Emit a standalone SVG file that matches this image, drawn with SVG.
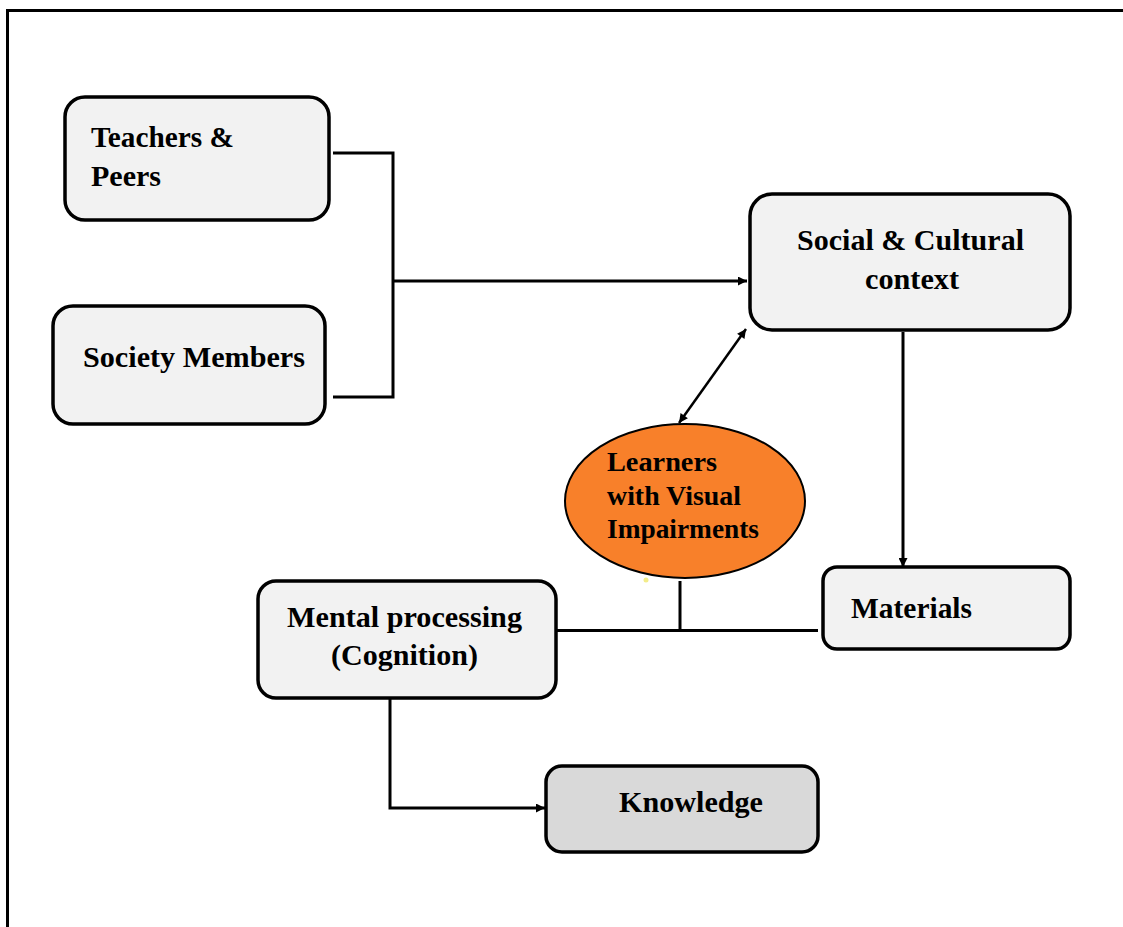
<svg xmlns="http://www.w3.org/2000/svg" width="1123" height="927" viewBox="0 0 1123 927">
  <style>
    .box { fill: #F2F2F2; stroke: #000; stroke-width: 3.5; }
    .dark { fill: #D9D9D9; }
    .lbl { font-family: "Liberation Serif", "Times New Roman", serif; font-weight: bold; font-size: 30px; fill: #000; }
    .sm { font-size: 28px; }
    .ln { fill: none; stroke: #000; stroke-width: 3; }
    .thin { stroke-width: 2.5; }
  </style>
  <defs>
    <marker id="arr" viewBox="0 0 10 10" refX="10" refY="5" markerWidth="10" markerHeight="9" markerUnits="userSpaceOnUse" orient="auto-start-reverse">
      <path d="M0,0 L10,5 L0,10 Z" fill="#000"/>
    </marker>
  </defs>
  <rect width="1123" height="927" fill="#fff"/>
  <path d="M7.5 927 V10.5 H1123" fill="none" stroke="#000" stroke-width="3"/>

  <g id="connectors">
    <path class="ln" d="M333 153 H393 V397 H333"/>
    <path class="ln" d="M393 281 H747" marker-end="url(#arr)"/>
    <path class="ln" d="M903 332 V567" marker-end="url(#arr)"/>
    <path class="ln thin" d="M746 329 L679 423" marker-start="url(#arr)" marker-end="url(#arr)"/>
    <path class="ln" d="M680 581 V630.5"/>
    <path class="ln" d="M557 630.5 H818"/>
    <path class="ln" d="M390 699 V808 H545" marker-end="url(#arr)"/>
  </g>

  <g id="teachers">
    <rect class="box" x="65" y="97" width="264" height="123" rx="20"/>
    <text class="lbl" x="91" y="147" textLength="143" lengthAdjust="spacingAndGlyphs">Teachers &amp;</text>
    <text class="lbl" x="91" y="186" textLength="70" lengthAdjust="spacingAndGlyphs">Peers</text>
  </g>

  <g id="society">
    <rect class="box" x="53" y="306" width="272" height="118" rx="20"/>
    <text class="lbl" x="83" y="367" textLength="222" lengthAdjust="spacingAndGlyphs">Society Members</text>
  </g>

  <g id="social">
    <rect class="box" x="750" y="194" width="320" height="136" rx="22"/>
    <text class="lbl" x="797" y="250" textLength="227" lengthAdjust="spacingAndGlyphs">Social &amp; Cultural</text>
    <text class="lbl" x="865" y="289" textLength="94" lengthAdjust="spacingAndGlyphs">context</text>
  </g>

  <g id="learners">
    <ellipse cx="685" cy="501" rx="120" ry="77" fill="#F8802A" stroke="#000" stroke-width="2"/>
    <text class="lbl sm" x="607" y="471" textLength="110" lengthAdjust="spacingAndGlyphs">Learners</text>
    <text class="lbl sm" x="607" y="505" textLength="134" lengthAdjust="spacingAndGlyphs">with Visual</text>
    <text class="lbl sm" x="607" y="538" textLength="152" lengthAdjust="spacingAndGlyphs">Impairments</text>
    <circle cx="646" cy="580" r="2.5" fill="#F3EC8A"/>
  </g>

  <g id="materials">
    <rect class="box" x="823" y="567" width="247" height="82" rx="14"/>
    <text class="lbl" x="851" y="618" textLength="121" lengthAdjust="spacingAndGlyphs">Materials</text>
  </g>

  <g id="mental">
    <rect class="box" x="258" y="581" width="298" height="117" rx="18"/>
    <text class="lbl" x="287" y="627" textLength="235" lengthAdjust="spacingAndGlyphs">Mental processing</text>
    <text class="lbl" x="331" y="665" textLength="147" lengthAdjust="spacingAndGlyphs">(Cognition)</text>
  </g>

  <g id="knowledge">
    <rect class="box dark" x="546" y="766" width="272" height="86" rx="16"/>
    <text class="lbl" x="619" y="812" textLength="144" lengthAdjust="spacingAndGlyphs">Knowledge</text>
  </g>
</svg>
